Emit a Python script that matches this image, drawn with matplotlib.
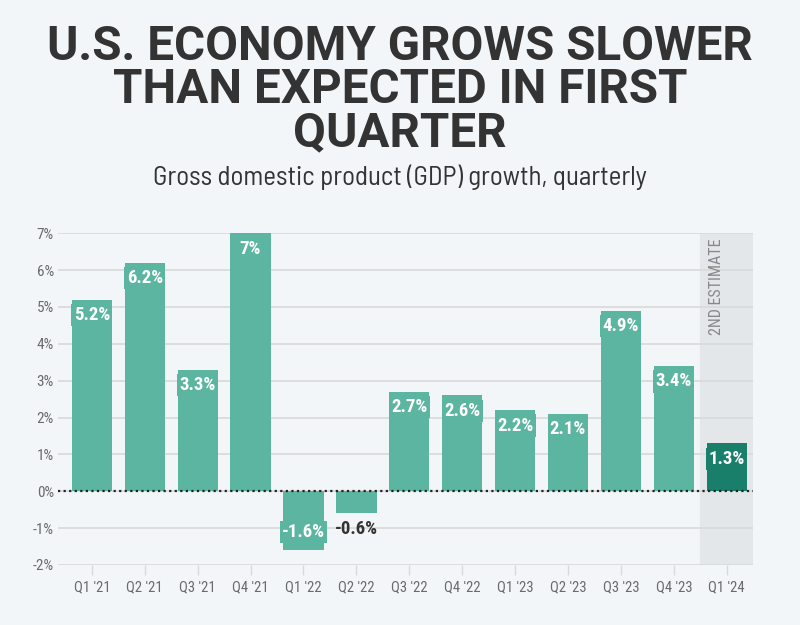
import matplotlib.pyplot as plt
from matplotlib import font_manager

quarters = ["Q1 '21", "Q2 '21", "Q3 '21", "Q4 '21", "Q1 '22", "Q2 '22", "Q3 '22",
            "Q4 '22", "Q1 '23", "Q2 '23", "Q3 '23", "Q4 '23", "Q1 '24"]
growth = [5.2, 6.2, 3.3, 7.0, -1.6, -0.6, 2.7, 2.6, 2.2, 2.1, 4.9, 3.4, 1.3]
labels = ["5.2%", "6.2%", "3.3%", "7%", "-1.6%", "-0.6%", "2.7%", "2.6%", "2.2%",
          "2.1%", "4.9%", "3.4%", "1.3%"]
yticks = [-2, -1, 0, 1, 2, 3, 4, 5, 6, 7]
title_lines = ["U.S. ECONOMY GROWS SLOWER", "THAN EXPECTED IN FIRST", "QUARTER"]
subtitle = "Gross domestic product (GDP) growth, quarterly"

bg = "#f3f6f9"
teal = "#5bb5a0"
dark_teal = "#1a7f6a"
text_col = "#333333"
gray = "#6a6a6a"

names = {f.name for f in font_manager.fontManager.ttflist}
def pick(prefs):
    return next(n for n in prefs + ["DejaVu Sans"] if n in names)

cond = pick(["Roboto Condensed", "Barlow Semi Condensed", "Archivo Narrow"])
head = pick(["Roboto", "Liberation Sans"])
sub_font = pick(["Barlow Semi Condensed", "Roboto Condensed"])
plt.rcParams["font.family"] = [cond, "DejaVu Sans"]

fig = plt.figure(figsize=(8, 6.25), dpi=100, facecolor=bg)
ax = fig.add_axes([0.0725, 0.096, 0.869, 0.531], facecolor=bg)

x = list(range(len(quarters)))
colors = [teal] * (len(quarters) - 1) + [dark_teal]

# shaded "2nd estimate" column
ax.axvspan(x[-1] - 0.5, x[-1] + 0.5, color="#e4e7ea", zorder=0)
ax.text(x[-1] - 0.2, 6.85, "2ND ESTIMATE", rotation=90, ha="center", va="top",
        color="#888888", fontsize=11.5, zorder=1)

ax.bar(x, growth, width=0.76, color=colors, zorder=2)
ax.axhline(0, color="#222222", linestyle=(0, (1, 1.5)), linewidth=1.6, zorder=3)

for xi, v, lab, c in zip(x, growth, labels, colors):
    box = dict(boxstyle="square,pad=0.12", facecolor=c, edgecolor="none")
    if v > 0:
        ax.text(xi, v - 0.42, lab, ha="center", va="center", color="white",
                fontsize=13.5, fontweight="bold", zorder=4, bbox=box)
    elif v < -1:
        ax.text(xi, v + 0.5, lab, ha="center", va="center", color="white",
                fontsize=13.5, fontweight="bold", zorder=4, bbox=box)
    else:
        ax.text(xi, v - 0.42, lab, ha="center", va="center", color=text_col,
                fontsize=13.5, fontweight="bold", zorder=4)

ax.set_xlim(-0.64, x[-1] + 0.5)
ax.set_ylim(-2, 7)
ax.set_yticks(yticks)
ax.set_yticklabels([f"{t}%" for t in yticks])
ax.set_xticks(x)
ax.set_xticklabels(quarters)
ax.grid(axis="y", color="#d9d9d9", linewidth=1.2, zorder=0)
ax.set_axisbelow(True)
for s in ax.spines.values():
    s.set_visible(False)
ax.tick_params(axis="y", length=0, colors=gray, labelsize=11, pad=3)
ax.tick_params(axis="x", length=7, width=1, color="#d9d9d9", colors=gray,
               labelsize=10.5, pad=4)
for t in ax.get_xticklabels():
    t.set_color(gray)

# header texts, sized so their widths match the reference
renderer = fig.canvas.get_renderer()
def fit(t, width_px):
    w = t.get_window_extent(renderer).width
    t.set_fontsize(t.get_fontsize() * width_px / w)

titles = []
for i, line in enumerate(title_lines):
    titles.append(fig.text(0.5, 1 - (47 + 43 * i) / 625, line, ha="center", va="center",
                           fontsize=30, fontweight="bold", color=text_col, family=head))
fit(titles[0], 705)
for t in titles[1:]:
    t.set_fontsize(titles[0].get_fontsize())
sub = fig.text(0.5, 1 - 177 / 625, subtitle, ha="center", va="center", fontsize=15,
               color=text_col, family=sub_font)
fit(sub, 495)

fig.savefig("out.png", dpi=100, facecolor=bg)
